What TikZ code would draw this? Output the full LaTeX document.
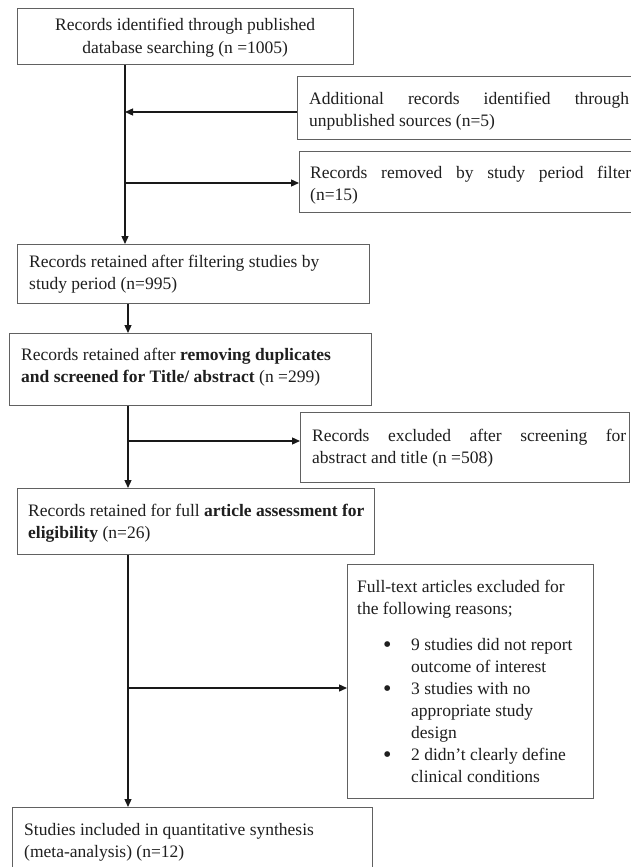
\documentclass[tikz,border=0pt]{standalone}
\usepackage{fontspec}
\setmainfont{Liberation Serif}
\usetikzlibrary{arrows.meta}
\newcommand{\bigbul}{\hbox to 54pt{\hskip 26pt\raisebox{-2pt}{\fontsize{24pt}{22pt}\selectfont •}\hfil}}
\tikzset{
  box/.style={draw=black!62, line width=1.2pt, rectangle, inner sep=0pt, anchor=north west},
  txt/.style={inner sep=0pt, anchor=base west, text=black!88, font=\fontsize{17.5pt}{22pt}\selectfont},
  arr/.style={draw=black!90, line width=1.3pt, -{Triangle[length=8pt,width=7pt]}}
}
\begin{document}
\begin{tikzpicture}[x=1pt,y=-1pt]
\clip (0,0) rectangle (631,867);
\fill[white] (0,0) rectangle (631,867);

% boxes
\node[box, minimum width=336pt, minimum height=56pt] (b1) at (17,8) {};
\node[box, minimum width=400pt, minimum height=63pt] (add) at (297,76) {};
\node[box, minimum width=400pt, minimum height=61pt] (rem) at (299,151) {};
\node[box, minimum width=352pt, minimum height=59pt] (b2) at (17,244) {};
\node[box, minimum width=362pt, minimum height=72pt] (b3) at (9,333) {};
\node[box, minimum width=329pt, minimum height=70pt] (exc) at (300,412) {};
\node[box, minimum width=357pt, minimum height=66pt] (b4) at (17,488) {};
\node[box, minimum width=246pt, minimum height=234pt] (ft) at (347,564) {};
\node[box, minimum width=360pt, minimum height=100pt] (b5) at (12,807) {};

% texts
\node[txt] (t1) at (17,31) {\vtop{\baselineskip=22pt\relax
  \hbox to 336pt{\hfil Records identified through published\hfil}
  \hbox to 336pt{\hfil database searching (n =1005)\hfil}}};
\node[txt] (tadd) at (309,104) {\vtop{\baselineskip=22pt\relax
  \hbox to 320pt{Additional\hfill records\hfill identified\hfill through}
  \hbox{unpublished sources (n=5)}}};
\node[txt] (trem) at (310,178) {\vtop{\baselineskip=22pt\relax
  \hbox to 321pt{Records\hfill removed\hfill by\hfill study\hfill period\hfill filter}
  \hbox{(n=15)}}};
\node[txt] (t2) at (29,267) {\vtop{\baselineskip=22pt\relax
  \hbox{Records retained after filtering studies by}
  \hbox{study period (n=995)}}};
\node[txt] (t3) at (21,360) {\vtop{\baselineskip=22pt\relax
  \hbox{Records retained after \textbf{removing duplicates}}
  \hbox{\textbf{and screened for Title/ abstract} (n =299)}}};
\node[txt] (texc) at (312,441) {\vtop{\baselineskip=22pt\relax
  \hbox to 314pt{Records\hfill excluded\hfill after\hfill screening\hfill for}
  \hbox{abstract and title (n =508)}}};
\node[txt] (t4) at (28,516) {\vtop{\baselineskip=22pt\relax
  \hbox{Records retained for full \textbf{article assessment for}}
  \hbox{\textbf{eligibility} (n=26)}}};
\node[txt] (tft) at (357,592) {\vtop{\baselineskip=22pt\relax
  \hbox{Full-text articles excluded for}
  \hbox{the following reasons;}
  \vskip 14pt
  \hbox{\bigbul 9 studies did not report}
  \hbox{\hskip 54pt outcome of interest}
  \hbox{\bigbul 3 studies with no}
  \hbox{\hskip 54pt appropriate study}
  \hbox{\hskip 54pt design}
  \hbox{\bigbul 2 didn’t clearly define}
  \hbox{\hskip 54pt clinical conditions}}};
\node[txt] (t5) at (24,835) {\vtop{\baselineskip=22pt\relax
  \hbox{Studies included in quantitative synthesis}
  \hbox{(meta-analysis) (n=12)}}};

% junctions
\coordinate (j1) at (125,112);
\coordinate (j2) at (125,183);
\coordinate (j3) at (128,441);
\coordinate (j4) at (128,688);

% connectors
\draw[arr] (b1.south -| j1) -- (b2.north -| j1);
\draw[arr] (add.west |- j1) -- (j1);
\draw[arr] (j2) -- (rem.west |- j2);
\draw[arr] (b2.south -| j3) -- (b3.north -| j3);
\draw[arr] (b3.south -| j3) -- (b4.north -| j3);
\draw[arr] (j3) -- (exc.west |- j3);
\draw[arr] (b4.south -| j4) -- (b5.north -| j4);
\draw[arr] (j4) -- (ft.west |- j4);
\end{tikzpicture}
\end{document}
